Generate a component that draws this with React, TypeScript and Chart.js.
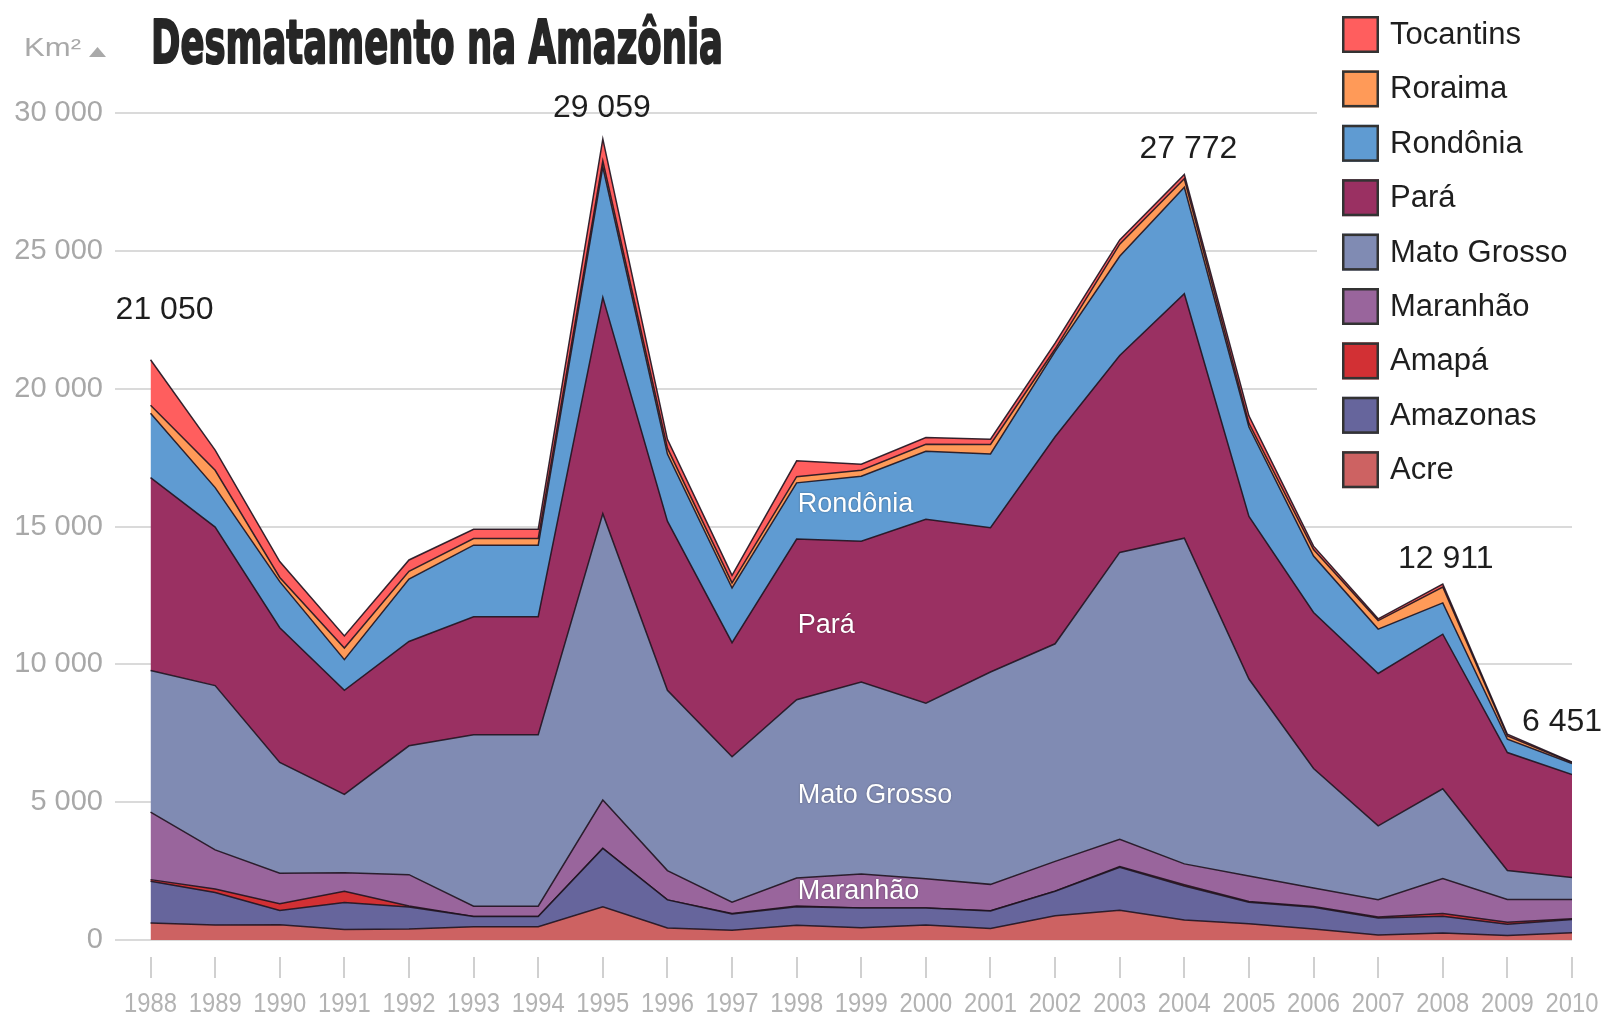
import React, { useEffect, useRef } from 'react';
import { Chart, registerables } from 'chart.js';

Chart.register(...registerables);

// ---------- data ----------
const years = [1988, 1989, 1990, 1991, 1992, 1993, 1994, 1995, 1996, 1997, 1998, 1999, 2000, 2001, 2002, 2003, 2004, 2005, 2006, 2007, 2008, 2009, 2010];

const acre = [620, 540, 550, 380, 400, 482, 482, 1208, 433, 358, 536, 441, 547, 419, 883, 1078, 728, 592, 398, 184, 254, 167, 265];
const amazonas = [1510, 1180, 520, 980, 799, 370, 370, 2114, 1023, 589, 670, 720, 612, 634, 885, 1558, 1232, 775, 788, 610, 604, 405, 480];
const amapa = [60, 130, 250, 410, 36, 0, 0, 9, 0, 18, 30, 0, 0, 7, 0, 25, 46, 33, 30, 39, 100, 70, 30];
const maranhao = [2450, 1420, 1100, 670, 1135, 372, 372, 1745, 1061, 409, 1012, 1230, 1065, 958, 1085, 993, 755, 922, 674, 631, 1271, 828, 690];
const matoGrosso = [5140, 5960, 4020, 2840, 4674, 6220, 6220, 10391, 6543, 5271, 6466, 6963, 6369, 7703, 7892, 10405, 11814, 7145, 4333, 2678, 3258, 1049, 800];
const para = [6990, 5750, 4890, 3780, 3787, 4284, 4284, 7845, 6135, 4139, 5829, 5111, 6671, 5237, 7510, 7145, 8870, 5899, 5659, 5526, 5607, 4281, 3740];
const rondonia = [2340, 1430, 1670, 1110, 2265, 2595, 2595, 4730, 2432, 1986, 2041, 2358, 2465, 2673, 3099, 3597, 3858, 3244, 2049, 1611, 1136, 482, 400];
const roraima = [290, 630, 150, 420, 281, 240, 240, 220, 214, 184, 223, 220, 253, 345, 84, 439, 311, 133, 231, 309, 574, 121, 30];
const tocantins = [1650, 730, 580, 440, 409, 333, 333, 797, 320, 273, 576, 216, 244, 189, 212, 156, 158, 271, 124, 63, 107, 61, 16];

const seriesNames = ['Acre', 'Amazonas', 'Amapá', 'Maranhão', 'Mato Grosso', 'Pará', 'Rondônia', 'Roraima', 'Tocantins'];
const seriesValues = [acre, amazonas, amapa, maranhao, matoGrosso, para, rondonia, roraima, tocantins];
const seriesColors = ['#cd6262', '#66659c', '#d23034', '#99659c', '#808bb3', '#9a3062', '#5f9bd2', '#ff9a58', '#ff5e5e'];

const yTickValues = [0, 5000, 10000, 15000, 20000, 25000, 30000];
const annotatedYears = [1988, 1995, 2004, 2008, 2010];
const titleText = 'Desmatamento na Amazônia';
const unitText = 'Km²';

// ---------- layout / style ----------
const W = 1606;
const H = 1016;
const annotationOffsets: Record<number, [number, number]> = {
  1988: [14, -50],
  1995: [-1, -31],
  2004: [4, -25],
  2008: [3, -25],
  2010: [-10, -40],
};
const inlineLabels = [
  { text: 'Rondônia', year: 1998, at: 15814 },
  { text: 'Pará', year: 1998, at: 11389 },
  { text: 'Mato Grosso', year: 1998, at: 5223 },
  { text: 'Maranhão', year: 1998, at: 1741 },
];

const fmt = (v: number) => String(Math.round(v)).replace(/\B(?=(\d{3})+(?!\d))/g, ' ');

const decorPlugin = {
  id: 'decor',
  afterDatasetsDraw(chart: any) {
    const { ctx, scales } = chart;
    const x = scales.x;
    const y = scales.y;
    ctx.save();
    ctx.fillStyle = '#ffffff';
    ctx.font = '27px "Liberation Sans", Arial, sans-serif';
    ctx.textAlign = 'left';
    ctx.textBaseline = 'middle';
    ctx.shadowColor = 'rgba(0,0,0,0.35)';
    ctx.shadowBlur = 2;
    inlineLabels.forEach((l) => {
      ctx.fillText(l.text, x.getPixelForValue(l.year) + 1, y.getPixelForValue(l.at));
    });
    ctx.restore();
  },
  afterDraw(chart: any) {
    const { ctx, scales, chartArea } = chart;
    const x = scales.x;
    const y = scales.y;
    ctx.save();

    // x tick marks and condensed year labels
    ctx.strokeStyle = '#d0d0d0';
    ctx.lineWidth = 2;
    years.forEach((yr) => {
      const px = Math.round(x.getPixelForValue(yr));
      ctx.beginPath();
      ctx.moveTo(px, chartArea.bottom + 17);
      ctx.lineTo(px, chartArea.bottom + 38);
      ctx.stroke();
    });
    ctx.fillStyle = '#b3b3b3';
    ctx.font = '28px "Liberation Sans", Arial, sans-serif';
    ctx.textAlign = 'center';
    ctx.textBaseline = 'middle';
    years.forEach((yr) => {
      const px = x.getPixelForValue(yr);
      ctx.save();
      ctx.translate(px, chartArea.bottom + 64);
      ctx.scale(0.85, 1);
      ctx.fillText(String(yr), 0, 0);
      ctx.restore();
    });

    // total annotations
    ctx.fillStyle = '#1e1e1e';
    ctx.font = '32px "Liberation Sans", Arial, sans-serif';
    ctx.textAlign = 'center';
    ctx.textBaseline = 'middle';
    annotatedYears.forEach((yr) => {
      const i = years.indexOf(yr);
      const total = seriesValues.reduce((s, arr) => s + arr[i], 0);
      const [dx, dy] = annotationOffsets[yr];
      ctx.fillText(fmt(total), x.getPixelForValue(yr) + dx, y.getPixelForValue(total) + dy);
    });

    // legend (white panel covering gridlines)
    ctx.fillStyle = '#ffffff';
    ctx.fillRect(1317, 0, W - 1317, 500);
    const boxX = 1342;
    const boxTop = 16;
    const step = 54.4;
    const boxSize = 37;
    for (let k = 0; k < seriesNames.length; k++) {
      const idx = seriesNames.length - 1 - k;
      const top = boxTop + k * step;
      ctx.fillStyle = seriesColors[idx];
      ctx.fillRect(boxX, top, boxSize, boxSize);
      ctx.strokeStyle = '#333333';
      ctx.lineWidth = 2.5;
      ctx.strokeRect(boxX + 1.25, top + 1.25, boxSize - 2.5, boxSize - 2.5);
      ctx.fillStyle = '#1e1e1e';
      ctx.font = '31px "Liberation Sans", Arial, sans-serif';
      ctx.textAlign = 'left';
      ctx.textBaseline = 'middle';
      ctx.fillText(seriesNames[idx], 1390, top + boxSize / 2 + 1);
    }

    // title
    ctx.save();
    ctx.font = 'bold 61px "DejaVu Sans", sans-serif';
    const tw = ctx.measureText(titleText).width;
    ctx.translate(151, 63);
    ctx.scale(572 / tw, 1);
    ctx.fillStyle = '#262626';
    ctx.strokeStyle = '#262626';
    ctx.lineWidth = 2.2;
    ctx.lineJoin = 'round';
    ctx.textAlign = 'left';
    ctx.textBaseline = 'alphabetic';
    ctx.fillText(titleText, 0, 0);
    ctx.strokeText(titleText, 0, 0);
    ctx.restore();

    // unit
    ctx.save();
    ctx.fillStyle = '#a9a9a9';
    ctx.font = '26px "Liberation Sans", Arial, sans-serif';
    ctx.textAlign = 'left';
    ctx.textBaseline = 'alphabetic';
    const uw = ctx.measureText(unitText).width;
    ctx.translate(24, 56);
    ctx.scale(57 / uw, 1);
    ctx.fillText(unitText, 0, 0);
    ctx.restore();
    ctx.fillStyle = '#a9a9a9';
    ctx.beginPath();
    ctx.moveTo(89, 57);
    ctx.lineTo(106, 57);
    ctx.lineTo(97.5, 47);
    ctx.closePath();
    ctx.fill();

    ctx.restore();
  },
};

export default function App() {
  const canvasRef = useRef<HTMLCanvasElement | null>(null);

  useEffect(() => {
    const canvas = canvasRef.current;
    if (!canvas) return;
    const datasets = seriesNames.map((name, i) => ({
      label: name,
      data: seriesValues[i].map((v, j) => ({ x: years[j], y: v })),
      backgroundColor: seriesColors[i],
      borderColor: 'rgba(30,18,30,0.9)',
      borderWidth: 1.5,
      pointRadius: 0,
      pointHoverRadius: 0,
      tension: 0,
      fill: i === 0 ? 'origin' : '-1',
    }));

    const chart = new Chart(canvas, {
      type: 'line',
      data: { datasets },
      plugins: [decorPlugin],
      options: {
        animation: false,
        responsive: false,
        devicePixelRatio: 1,
        layout: { padding: { top: 113, right: 34, bottom: 0, left: 0 } },
        plugins: {
          legend: { display: false },
          title: { display: false },
          tooltip: { enabled: false },
        },
        scales: {
          x: {
            type: 'linear',
            min: 1987.45,
            max: 2010,
            grid: { display: false, drawTicks: false },
            border: { display: false },
            afterBuildTicks: (scale: any) => {
              scale.ticks = years.map((v) => ({ value: v }));
            },
            afterFit: (scale: any) => {
              scale.height = 76;
            },
            ticks: { display: false },
          },
          y: {
            stacked: true,
            min: 0,
            max: 30000,
            afterBuildTicks: (scale: any) => {
              scale.ticks = yTickValues.map((v) => ({ value: v }));
            },
            afterFit: (scale: any) => {
              scale.width = 115;
            },
            grid: { color: '#dadada', lineWidth: 2, drawTicks: false },
            border: { display: false },
            ticks: {
              padding: 12,
              color: '#a8a8a8',
              font: { family: '"Liberation Sans", Arial, sans-serif', size: 29 },
              callback: (v: any) => fmt(Number(v)),
            },
          },
        },
      },
    } as any);

    return () => chart.destroy();
  }, []);

  return (
    <div style={{ position: 'fixed', left: 0, top: 0, width: W, height: H, background: '#ffffff' }}>
      <canvas ref={canvasRef} width={W} height={H} style={{ width: W, height: H, display: 'block' }} />
    </div>
  );
}
